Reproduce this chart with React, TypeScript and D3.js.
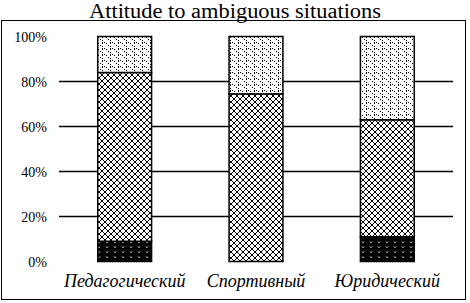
import React from 'react';
import * as d3 from 'd3';

const categories = ['Педагогический', 'Спортивный', 'Юридический'];
const lowValues = [9, 0, 11];
const midValues = [75, 74.5, 52];
const highValues = [16, 25.5, 37];
const yTicks = [0, 20, 40, 60, 80, 100];
const gridTicks = [20, 40, 60, 80];
const title = 'Attitude to ambiguous situations';

const W = 470;
const H = 303;

const ringPixels = [
  [2, 0], [3, 0], [1, 1], [4, 1], [0, 2], [5, 2], [0, 3], [5, 3], [1, 4], [4, 4], [2, 5], [3, 5],
];

export default function App() {
  const x = d3.scaleBand<string>().domain(categories).range([59, 453]).paddingInner(0.59).paddingOuter(0.295);
  const y = d3.scaleLinear().domain([0, 100]).range([261.5, 36.5]);
  const stackData = categories.map((c, i) => ({ cat: c, low: lowValues[i], mid: midValues[i], high: highValues[i] }));
  const series = d3.stack<any>().keys(['low', 'mid', 'high'])(stackData);
  const fills: Record<string, string> = { low: 'url(#pLow)', mid: 'url(#pMid)', high: 'url(#pHigh)' };

  return (
    <svg width={W} height={H} style={{ position: 'absolute', left: 0, top: 0, background: '#fff' }}>
      <defs>
        <pattern id="pHigh" patternUnits="userSpaceOnUse" width="8" height="6">
          <rect width="8" height="6" fill="#fff" />
          <rect x="0" y="0" width="1" height="1" fill="#000" />
          <rect x="4" y="3" width="1" height="1" fill="#000" />
          <rect x="2" y="1" width="1" height="1" fill="#000" />
          <rect x="6" y="0" width="1" height="2" fill="#000" />
          <rect x="6" y="4" width="1" height="1" fill="#000" />
        </pattern>
        <pattern id="pMid" patternUnits="userSpaceOnUse" width="6" height="6">
          <rect width="6" height="6" fill="#fff" />
          {ringPixels.map(([px, py], i) => (
            <rect key={i} x={px} y={py} width={1} height={1} fill="#000" shapeRendering="crispEdges" />
          ))}
        </pattern>
        <pattern id="pLow" patternUnits="userSpaceOnUse" width="8" height="5">
          <rect width="8" height="5" fill="#000" />
          <path d="M2,1.5 L3,2.8 L4,1.5" fill="none" stroke="#fff" strokeWidth="0.8" />
        </pattern>
      </defs>
      <rect x={1.5} y={20.5} width={464} height={279} fill="none" stroke="#000" strokeWidth={1} />
      <text x={235} y={18} textAnchor="middle" fontFamily="'Liberation Serif', 'Times New Roman', serif" fontSize={20} fill="#000" textLength={292} lengthAdjust="spacingAndGlyphs">
        {title}
      </text>
      {gridTicks.map((t) => (
        <line key={t} x1={59} x2={453} y1={y(t)} y2={y(t)} stroke="#000" strokeWidth={1.5} />
      ))}
      {yTicks.map((t) => (
        <text key={t} x={47} y={y(t) + 5} textAnchor="end" fontFamily="'Liberation Serif', 'Times New Roman', serif" fontSize={14} fill="#000">
          {t}%
        </text>
      ))}
      {series.map((s) => (
        <g key={s.key}>
          {s.map((d, i) => {
            const h = y(d[0]) - y(d[1]);
            if (h <= 0) return null;
            return (
              <rect
                key={i}
                x={x(categories[i])!}
                y={y(d[1])}
                width={x.bandwidth()}
                height={h}
                fill={fills[s.key]}
                stroke="#000"
                strokeWidth={1.5}
              />
            );
          })}
        </g>
      ))}
      {categories.map((c) => (
        <text key={c} x={x(c)! + x.bandwidth() / 2} y={287} textAnchor="middle" fontFamily="'Liberation Serif', 'Times New Roman', serif" fontStyle="italic" fontSize={18} fill="#000">
          {c}
        </text>
      ))}
    </svg>
  );
}
